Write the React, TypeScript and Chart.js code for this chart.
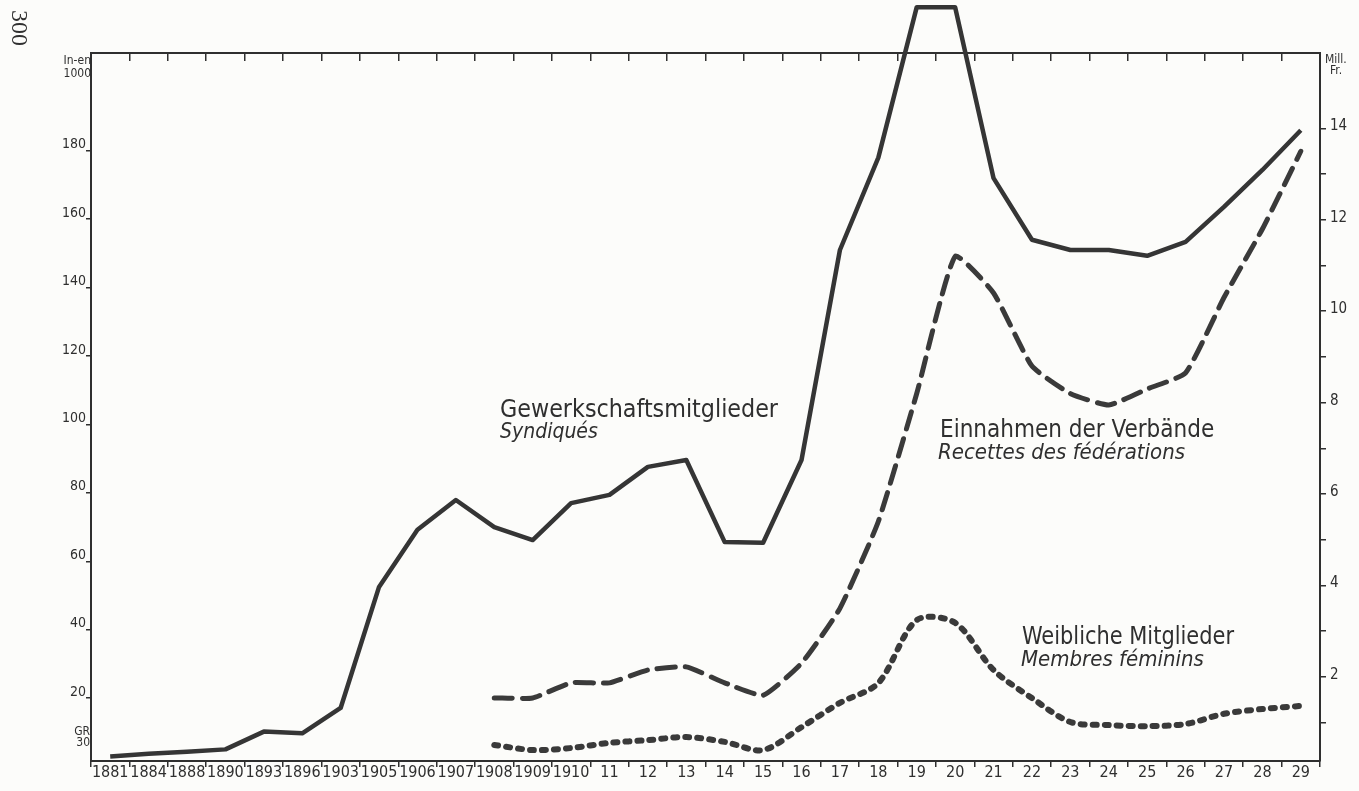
import React, { useEffect, useRef } from "react";
import { Chart, registerables } from "chart.js";

Chart.register(...registerables);

const years = [
  "1881", "1884", "1888", "1890", "1893", "1896", "1903", "1905", "1906", "1907",
  "1908", "1909", "1910", "11", "12", "13", "14", "15", "16", "17", "18", "19",
  "20", "21", "22", "23", "24", "25", "26", "27", "28", "29",
];

// Gewerkschaftsmitglieder (in 1000)
const members = [
  2.9, 3.7, 4.3, 5.0, 10.2, 9.7, 17.1, 52.5, 69.2, 77.9,
  70, 66.2, 77, 79.4, 87.6, 89.6, 65.6, 65.4, 89.6, 151, 178, 222,
  222, 172, 154, 151, 151, 149.3, 153.4, 163.6, 174.4, 186,
];

// Einnahmen der Verbände (Mill. Fr.)
const income = [
  null, null, null, null, null, null, null, null, null, null,
  1.54, 1.54, 1.87, 1.87, 2.15, 2.22, 1.87, 1.6, 2.3, 3.5, 5.4, 8.2,
  11.2, 10.4, 8.8, 8.2, 7.95, 8.3, 8.65, 10.3, 11.8, 13.5,
];

// Weibliche Mitglieder (in 1000)
const women = [
  null, null, null, null, null, null, null, null, null, null,
  6.3, 4.8, 5.4, 6.9, 7.7, 8.6, 7.2, 4.8, 11.5, 18.6, 24.4, 42.8,
  42, 28.2, 20, 13, 12.1, 11.8, 12.4, 15.4, 16.8, 17.7,
];

const leftTicks = [20, 40, 60, 80, 100, 120, 140, 160, 180];
const rightTicks = [1, 2, 3, 4, 5, 6, 7, 8, 9, 10, 11, 12, 13, 14];
const rightLabelled = [2, 4, 6, 8, 10, 12, 14];

const INK = "#2f2f2f";
const FONT = "'DejaVu Sans Condensed', 'DejaVu Sans', sans-serif";

const textPlugin = {
  id: "annotText",
  beforeDraw(chart: any) {
    const ctx = chart.ctx;
    ctx.save();
    ctx.fillStyle = "#fcfcfa";
    ctx.fillRect(0, 0, chart.width, chart.height);
    ctx.restore();
  },
  afterDraw(chart: any) {
    const ctx = chart.ctx;
    ctx.save();
    ctx.fillStyle = INK;
    ctx.textBaseline = "alphabetic";
    ctx.textAlign = "left";
    const t = (s: string, x: number, y: number, size: number, w: number, italic = false) => {
      ctx.font = `${italic ? "italic " : ""}${size}px ${FONT}`;
      ctx.fillText(s, x, y, w);
    };
    t("Gewerkschaftsmitglieder", 500, 417, 25, 278);
    t("Syndiqués", 500, 438, 21, 112, true);
    t("Einnahmen der Verbände", 940, 437, 24, 276);
    t("Recettes des fédérations", 938, 459, 22, 280, true);
    t("Weibliche Mitglieder", 1022, 644, 24, 212);
    t("Membres féminins", 1021, 666, 22, 190, true);

    // unit labels
    ctx.font = `12px ${FONT}`;
    ctx.textAlign = "right";
    ctx.fillText("In-en", 91, 64);
    ctx.fillText("1000", 91, 77);
    ctx.fillText("GR", 90, 735);
    ctx.fillText("30", 90, 746);
    ctx.textAlign = "left";
    ctx.fillText("Mill.", 1325, 63);
    ctx.fillText("Fr.", 1330, 74);

    // page number
    ctx.save();
    ctx.translate(12, 10);
    ctx.rotate(Math.PI / 2);
    ctx.font = "24px 'Liberation Serif', serif";
    ctx.fillText("300", 0, 0);
    ctx.restore();
    ctx.restore();
  },
};

export default function App() {
  const ref = useRef<HTMLCanvasElement>(null);
  useEffect(() => {
    if (!ref.current) return;
    const chart = new Chart(ref.current, {
      type: "line",
      data: {
        labels: years,
        datasets: [
          {
            label: "Gewerkschaftsmitglieder",
            data: members,
            yAxisID: "y",
            borderColor: "#353535",
            borderWidth: 4.5,
            pointRadius: 0,
            tension: 0,
            borderJoinStyle: "round",
            clip: false as any,
          },
          {
            label: "Einnahmen der Verbände",
            data: income,
            yAxisID: "y1",
            borderColor: "#3a3a3a",
            borderWidth: 5,
            borderDash: [18, 10],
            borderCapStyle: "round",
            pointRadius: 0,
            tension: 0.15,
            clip: false as any,
          },
          {
            label: "Weibliche Mitglieder",
            data: women,
            yAxisID: "y",
            borderColor: "#3a3a3a",
            borderWidth: 6,
            borderDash: [4, 8],
            borderCapStyle: "round",
            pointRadius: 0,
            tension: 0.3,
            clip: false as any,
          },
        ],
      },
      options: {
        animation: false,
        responsive: false,
        events: [],
        layout: { padding: { top: 53, left: 0, right: 0, bottom: 0 } },
        plugins: { legend: { display: false }, tooltip: { enabled: false } },
        scales: {
          x: {
            type: "category",
            position: "bottom",
            offset: true,
            grid: { offset: true, drawOnChartArea: false, tickLength: 6, color: INK, lineWidth: 1.5 },
            border: { display: true, color: INK, width: 2 },
            ticks: {
              autoSkip: false,
              maxRotation: 0,
              minRotation: 0,
              padding: -4,
              color: INK,
              font: { family: FONT, size: 16 },
            },
            afterFit: (s: any) => { s.height = 30; },
          },
          x2: {
            type: "category",
            position: "top",
            labels: years,
            offset: true,
            grid: { offset: true, drawOnChartArea: false, tickLength: -8, color: INK, lineWidth: 1.5 },
            border: { display: true, color: INK, width: 2 },
            ticks: { display: false },
            afterFit: (s: any) => { s.height = 0; },
          },
          y: {
            type: "linear",
            position: "left",
            min: 1.6,
            max: 208.6,
            afterBuildTicks: (s: any) => { s.ticks = leftTicks.map((v) => ({ value: v })); },
            grid: { drawOnChartArea: false, tickLength: 5, color: INK, lineWidth: 1.5 },
            border: { display: true, color: INK, width: 2 },
            ticks: {
              padding: 0,
              labelOffset: -6,
              color: INK,
              font: { family: FONT, size: 14 },
            },
            afterFit: (s: any) => { s.width = 91; },
          },
          y1: {
            type: "linear",
            position: "right",
            min: 0.16,
            max: 15.65,
            afterBuildTicks: (s: any) => { s.ticks = rightTicks.map((v) => ({ value: v })); },
            grid: { drawOnChartArea: false, tickLength: 6, color: INK, lineWidth: 1.5 },
            border: { display: true, color: INK, width: 2 },
            ticks: {
              padding: 4,
              labelOffset: -2,
              color: INK,
              font: { family: FONT, size: 15 },
              callback: (v: any) => (rightLabelled.includes(Number(v)) ? String(v) : ""),
            },
            afterFit: (s: any) => { s.width = 39; },
          },
        },
      },
      plugins: [textPlugin],
    });
    return () => chart.destroy();
  }, []);
  return (
    <div style={{ position: "absolute", left: 0, top: 0, width: 1359, height: 791 }}>
      <canvas ref={ref} width={1359} height={791} style={{ display: "block" }} />
    </div>
  );
}
